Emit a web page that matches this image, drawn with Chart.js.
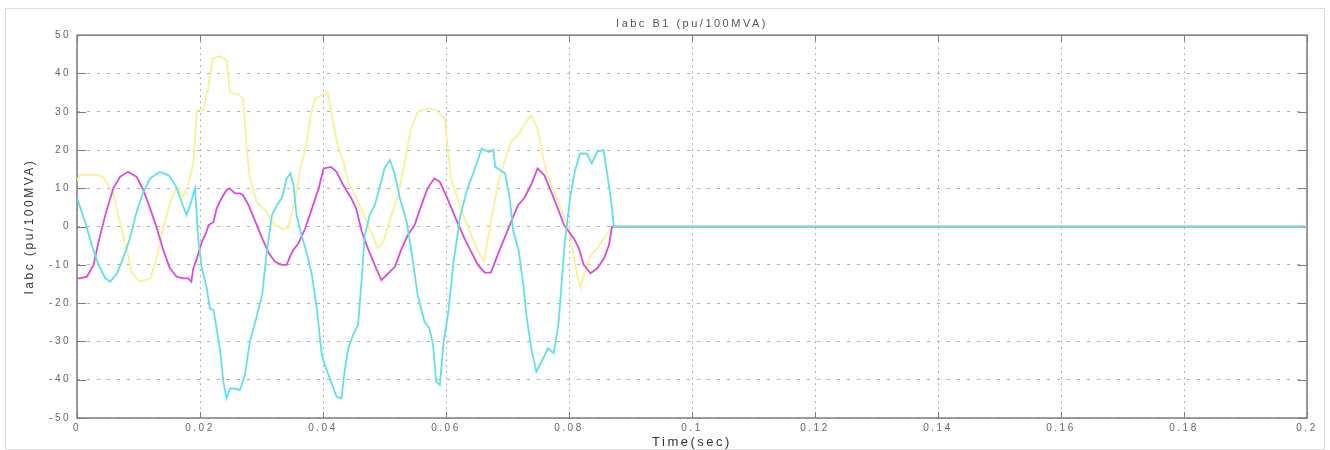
<!DOCTYPE html>
<html><head><meta charset="utf-8">
<script src="https://cdn.jsdelivr.net/npm/chart.js@4.4.1/dist/chart.umd.min.js"></script>
<style>html,body{margin:0;padding:0;background:#fff;}canvas{display:block;}</style>
</head><body>
<canvas id="c" width="1330" height="450"></canvas>
<script>
const titleText = 'Iabc B1 (pu/100MVA)';
const xAxisTitle = 'Time(sec)';
const yAxisTitle = 'Iabc (pu/100MVA)';
const xTickValues = [0, 0.02, 0.04, 0.06, 0.08, 0.1, 0.12, 0.14, 0.16, 0.18, 0.2];
const xTickLabels = ['0', '0.02', '0.04', '0.06', '0.08', '0.1', '0.12', '0.14', '0.16', '0.18', '0.2'];
const yTickValues = [-50, -40, -30, -20, -10, 0, 10, 20, 30, 40, 50];
const yTickLabels = ['-50', '-40', '-30', '-20', '-10', '0', '10', '20', '30', '40', '50'];

// Phase A (yellow)
const timeA = [0, 0.0005, 0.0033, 0.0042, 0.0059, 0.0070, 0.0081, 0.0089, 0.0102, 0.0119, 0.0130, 0.0140, 0.0151, 0.0162, 0.0172, 0.0180, 0.0189, 0.0195, 0.0205, 0.0213, 0.0221, 0.0233, 0.0243, 0.0249, 0.0262, 0.0270, 0.0276, 0.0281, 0.0292, 0.0308, 0.0322, 0.0333, 0.0343, 0.0354, 0.0363, 0.0373, 0.0379, 0.0387, 0.0400, 0.0408, 0.0413, 0.0424, 0.0433, 0.0441, 0.0452, 0.0462, 0.0478, 0.0489, 0.0498, 0.0508, 0.0522, 0.0533, 0.0543, 0.0554, 0.0571, 0.0584, 0.0598, 0.0603, 0.0608, 0.0624, 0.0641, 0.0652, 0.0662, 0.0673, 0.0684, 0.0695, 0.0706, 0.0717, 0.0727, 0.0738, 0.0749, 0.0757, 0.0765, 0.0776, 0.0787, 0.0798, 0.0803, 0.0811, 0.0819, 0.0824, 0.0835, 0.0846, 0.0857, 0.0868, 0.0872, 0.2];
const currentA = [12, 13.5, 13.5, 13, 8.7, 0.9, -6, -12, -14.4, -13.5, -8, -0.5, 6.1, 10.4, 7.8, 10.4, 16.5, 30.4, 30.4, 36, 44, 44.5, 43.5, 35, 34.5, 33.5, 20.4, 12.6, 6.5, 3.9, 0.4, -0.5, -0.5, 6.5, 15.2, 21.3, 28.2, 33.5, 34.4, 35, 30, 21.3, 17, 11.7, 8.2, 4.7, -1.3, -5.7, -4, 1.3, 8.2, 17, 25.6, 30, 30.9, 30.4, 28.2, 20, 12.6, 4.7, -2.2, -6.6, -9, 1.3, 10.8, 17, 22.2, 23.9, 26.5, 29.1, 25.6, 18.7, 13.4, 9.1, 4.7, 0.4, -3, -10.9, -16.1, -12.7, -7.4, -5.7, -3.1, -0.5, 0, 0];

// Phase B (magenta)
const timeB = [0, 0.0005, 0.0016, 0.0027, 0.0035, 0.0046, 0.0059, 0.0070, 0.0083, 0.0097, 0.0108, 0.0119, 0.0130, 0.0140, 0.0151, 0.0162, 0.0173, 0.0181, 0.0186, 0.0189, 0.0195, 0.0203, 0.0209, 0.0214, 0.0222, 0.0227, 0.0235, 0.0243, 0.0248, 0.0257, 0.0265, 0.0270, 0.0279, 0.0290, 0.0301, 0.0312, 0.0322, 0.0333, 0.0341, 0.0347, 0.0352, 0.0360, 0.0371, 0.0382, 0.0393, 0.0401, 0.0413, 0.0422, 0.0430, 0.0438, 0.0446, 0.0454, 0.0463, 0.0473, 0.0484, 0.0495, 0.0506, 0.0517, 0.0528, 0.0538, 0.0549, 0.0560, 0.0570, 0.0581, 0.0590, 0.0600, 0.0616, 0.0630, 0.0641, 0.0652, 0.0663, 0.0673, 0.0684, 0.0695, 0.0706, 0.0717, 0.0727, 0.0738, 0.0749, 0.0760, 0.0771, 0.0782, 0.0792, 0.0808, 0.0816, 0.0824, 0.0835, 0.0846, 0.0857, 0.0865, 0.0870, 0.2];
const currentB = [-13.5, -13.5, -13.1, -10, -4, 3, 10, 13, 14.3, 13, 9.5, 4.7, -0.5, -6, -10.9, -13.1, -13.5, -13.5, -14.4, -11, -8.3, -4, -2, 0.4, 1.2, 4.7, 7.4, 9.5, 10, 8.7, 8.7, 8.2, 5.6, 1.3, -3, -7, -9.2, -10, -10, -7.5, -6, -4.4, -0.5, 4.7, 10, 15.2, 15.6, 14.3, 11.7, 9.5, 7.4, 4.7, -1.3, -5.7, -10, -14, -12.2, -10.5, -5.7, -2.2, 0.4, 5.6, 10, 12.6, 11.7, 8.2, 2.1, -3.1, -6.6, -10, -12, -12, -7.4, -3.1, 1.3, 5.6, 7.4, 10.8, 15.2, 13.4, 9.1, 4.7, 0.4, -3.1, -5.7, -10, -12.2, -10.9, -8.3, -4.8, 0, 0];

// Phase C (cyan)
const timeC = [0, 0.0013, 0.0024, 0.0035, 0.0046, 0.0054, 0.0065, 0.0075, 0.0086, 0.0097, 0.0108, 0.0119, 0.0135, 0.0149, 0.0160, 0.0170, 0.0178, 0.0184, 0.0192, 0.0197, 0.0203, 0.0211, 0.0216, 0.0222, 0.0227, 0.0233, 0.0238, 0.0243, 0.0249, 0.0257, 0.0265, 0.0273, 0.0281, 0.0290, 0.0301, 0.0308, 0.0317, 0.0325, 0.0333, 0.0341, 0.0347, 0.0352, 0.0357, 0.0365, 0.0373, 0.0382, 0.0390, 0.0398, 0.0403, 0.0413, 0.0422, 0.0430, 0.0435, 0.0441, 0.0449, 0.0457, 0.0463, 0.0468, 0.0476, 0.0484, 0.0492, 0.0500, 0.0509, 0.0517, 0.0525, 0.0536, 0.0544, 0.0554, 0.0565, 0.0573, 0.0579, 0.0584, 0.0590, 0.0596, 0.0604, 0.0612, 0.0623, 0.0634, 0.0650, 0.0658, 0.0669, 0.0677, 0.0680, 0.0688, 0.0696, 0.0704, 0.0709, 0.0718, 0.0726, 0.0731, 0.0739, 0.0747, 0.0758, 0.0766, 0.0775, 0.0783, 0.0788, 0.0793, 0.0802, 0.0810, 0.0818, 0.0829, 0.0837, 0.0846, 0.0856, 0.0862, 0.0869, 0.0873, 0.2];
const currentC = [7.5, 1.3, -4.8, -10, -13.5, -14.4, -12.2, -8.3, -3.1, 3.9, 9.1, 12.6, 14.3, 13.4, 10.8, 6.5, 3, 5.6, 10, -3, -10.9, -16, -21.4, -21.8, -26.6, -32.7, -40.5, -44.9, -42.3, -42.3, -42.7, -38.8, -30.1, -24.8, -17.9, -7.4, 3, 5.6, 7.4, 12.6, 13.9, 10.8, 3, -2.2, -6.6, -12.7, -21.4, -33.5, -36.2, -40.5, -44.4, -44.9, -37.9, -31.8, -28.3, -25.7, -13.5, -2.2, 3, 5.6, 10, 15.2, 17.4, 13.4, 7.4, 1.3, -6.6, -17.9, -24.8, -26.6, -30.9, -40.5, -41.4, -30.4, -22, -9.6, 2.6, 9.5, 16.5, 20.4, 19.5, 20, 15.6, 14.8, 13.9, 7, -0.9, -6.1, -15.7, -23.5, -32.2, -37.9, -34.4, -31.8, -33.1, -25.3, -14.8, -4.4, 7.8, 14.8, 19.1, 19.1, 16.5, 19.6, 20, 14, 6.1, 0, 0];

const toPoints = (ts, vs) => ts.map((t, i) => ({x: t, y: vs[i]}));

const textFont = "'Liberation Sans', Arial, Helvetica, sans-serif";

const figurePlugin = {
  id: 'figure',
  beforeDraw(chart) {
    const ctx = chart.ctx;
    ctx.save();
    ctx.fillStyle = '#ffffff';
    ctx.fillRect(0, 0, chart.width, chart.height);
    ctx.strokeStyle = '#dedede';
    ctx.lineWidth = 1;
    ctx.strokeRect(5.5, 8.5, 1319, 441);
    ctx.restore();
    ctx.letterSpacing = '2.5px';
  },
  beforeDatasetsDraw(chart) {
    const {ctx, chartArea: a, scales: {x, y}} = chart;
    ctx.save();
    ctx.strokeStyle = '#7c7c7c';
    ctx.lineWidth = 1;
    ctx.beginPath();
    xTickValues.forEach(v => {
      const px = Math.round(x.getPixelForValue(v)) + 0.5;
      ctx.moveTo(px, a.bottom); ctx.lineTo(px, a.bottom - 6);
      ctx.moveTo(px, a.top); ctx.lineTo(px, a.top + 6);
    });
    yTickValues.forEach(v => {
      const py = Math.round(y.getPixelForValue(v)) + 0.5;
      ctx.moveTo(a.left, py); ctx.lineTo(a.left + 9, py);
      ctx.moveTo(a.right, py); ctx.lineTo(a.right - 9, py);
    });
    ctx.stroke();
    ctx.lineWidth = 1.5;
    ctx.strokeRect(a.left, a.top, a.right - a.left, a.bottom - a.top);
    ctx.restore();
  },
  afterDraw(chart) {
    chart.ctx.letterSpacing = '0px';
  }
};

new Chart(document.getElementById('c'), {
  type: 'line',
  data: {
    datasets: [
      {label: 'Ia', data: toPoints(timeA, currentA), borderColor: '#f8f195', order: 3},
      {label: 'Ib', data: toPoints(timeB, currentB), borderColor: '#d94bd9', order: 2},
      {label: 'Ic', data: toPoints(timeC, currentC), borderColor: '#62e0e8', order: 1}
    ]
  },
  options: {
    responsive: false,
    animation: false,
    events: [],
    elements: {
      line: {borderWidth: 1.8, tension: 0, fill: false},
      point: {radius: 0}
    },
    layout: {padding: {top: 2, right: 23, bottom: 0, left: 0}},
    plugins: {
      legend: {display: false},
      tooltip: {enabled: false},
      title: {
        display: true,
        text: titleText,
        fullSize: false,
        color: '#555',
        font: {family: textFont, size: 11, weight: 'normal', lineHeight: 1.2},
        padding: {top: 15, bottom: 5}
      }
    },
    scales: {
      x: {
        type: 'linear',
        min: 0, max: 0.2,
        afterBuildTicks: s => { s.ticks = xTickValues.map(v => ({value: v})); },
        afterFit: s => { s.height = 32; },
        ticks: {
          callback: (v, i) => xTickLabels[i],
          color: '#666',
          font: {family: textFont, size: 10},
          padding: 4,
          maxRotation: 0,
          autoSkip: false
        },
        grid: {color: '#b0b0b0', lineWidth: 1, drawTicks: false},
        border: {display: false, dash: [2, 4]},
        title: {display: true, text: xAxisTitle, color: '#333', font: {family: textFont, size: 13}, padding: {top: 0, bottom: 0}}
      },
      y: {
        type: 'linear',
        min: -50, max: 50,
        afterBuildTicks: s => { s.ticks = yTickValues.map(v => ({value: v})); },
        afterFit: s => { s.width = 77; },
        ticks: {
          callback: (v, i) => yTickLabels[i],
          color: '#666',
          font: {family: textFont, size: 10},
          padding: 6,
          autoSkip: false
        },
        grid: {color: '#b0b0b0', lineWidth: 1, drawTicks: false},
        border: {display: false, dash: [3, 7]},
        title: {display: true, text: yAxisTitle, color: '#333', font: {family: textFont, size: 12}, padding: {top: 22, bottom: 0}}
      }
    }
  },
  plugins: [figurePlugin]
});
</script>
</body></html>
